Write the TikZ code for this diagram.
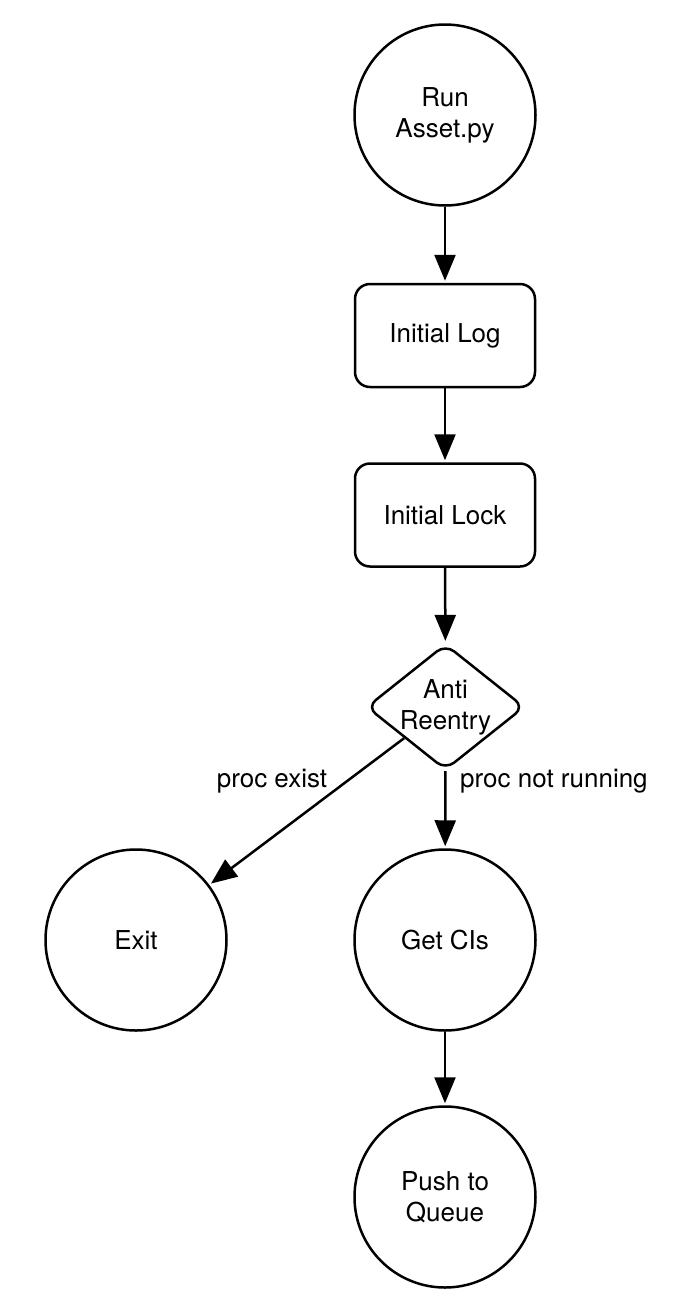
\documentclass[tikz,border=0pt]{standalone}
\usepackage{fontspec}
\setmainfont{TeX Gyre Heros}
\usetikzlibrary{shapes.geometric,arrows.meta}
\begin{document}
\begin{tikzpicture}[x=1pt,y=-1pt,
  every node/.style={font=\fontsize{26}{31}\selectfont, text=black},
  ln/.style={line width=2.5pt, draw=black},
  circ/.style={ln, circle, inner sep=0pt, minimum size=181pt, align=center},
  rbox/.style={ln, rectangle, rounded corners=15pt, minimum width=180pt, minimum height=103pt, align=center},
  rhomb/.style={ln, diamond, rounded corners=11pt, inner sep=0pt, minimum width=158pt, minimum height=126pt},
  arr/.style={line width=2.5pt, -{Triangle[length=26pt,width=21pt]}, shorten >=2pt},
  elbl/.style={inner sep=0pt}
]
\useasboundingbox (0,0) rectangle (694,1312);
\node[circ] (run) at (445,115) {Run\\Asset.py};
\node[rbox] (log) at (445,335.5) {Initial Log};
\node[rbox] (lock) at (445,515) {Initial Lock};
\node[rhomb, label={[align=center, inner sep=0pt]center:Anti\\Reentry}] (anti) at (445.5,707) {};
\node[circ] (exit) at (136,940) {Exit};
\node[circ] (cis) at (445,940) {Get CIs};
\node[circ] (push) at (445,1197) {Push to\\Queue};
\draw[arr] (run) -- (log);
\draw[arr] (log) -- (lock);
\draw[arr] (lock) -- (anti);
\draw[arr] (anti) -- (exit);
\draw[arr] (anti) -- (cis);
\draw[arr] (cis) -- (push);
\node[elbl] (lexist) at (272,781) {proc exist};
\node[elbl, anchor=west] (lnotrun) at (460,781) {proc not running};
\end{tikzpicture}
\end{document}
